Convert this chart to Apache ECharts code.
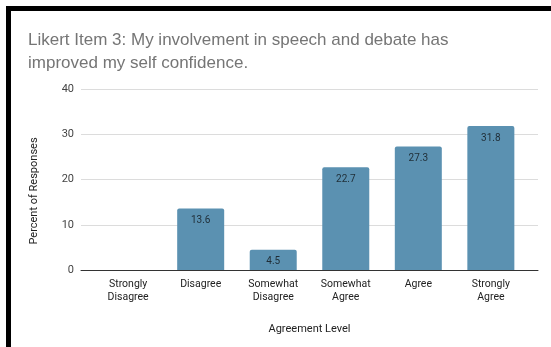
<!DOCTYPE html>
<html>
<head>
<meta charset="utf-8">
<script src="https://cdn.jsdelivr.net/npm/echarts@6/dist/echarts.min.js"></script>
<style>
  html, body { margin: 0; padding: 0; background: #fff; }
  #chart { width: 551px; height: 347px; }
</style>
</head>
<body>
<div id="chart"></div>
<script>
// Agreement levels and response shares (percent)
const categories = ['Strongly\nDisagree', 'Disagree', 'Somewhat\nDisagree', 'Somewhat\nAgree', 'Agree', 'Strongly\nAgree'];
const percents = [0, 13.6, 4.5, 22.7, 27.3, 31.8];
const yTicks = [0, 10, 20, 30, 40];

const chart = echarts.init(document.getElementById('chart'), null, { renderer: 'canvas' });
const font = 'Roboto, Arial, sans-serif';

chart.setOption({
  backgroundColor: '#ffffff',
  animation: false,
  title: {
    text: 'Likert Item 3: My involvement in speech and debate has\nimproved my self confidence.',
    left: 23,
    top: 24,
    textStyle: { fontFamily: 'Arial, Liberation Sans, sans-serif', fontSize: 17, fontWeight: 'normal', color: '#757575', lineHeight: 23 }
  },
  graphic: [
    { type: 'rect', shape: { x: 6, y: 6, width: 5, height: 341 }, style: { fill: '#000' } },
    { type: 'rect', shape: { x: 6, y: 6, width: 545, height: 5 }, style: { fill: '#000' } },
    {
      type: 'text', x: 34, y: 191, rotation: Math.PI / 2,
      style: { text: 'Percent of Responses', fill: '#222', font: '11px ' + font, align: 'center', verticalAlign: 'middle' }
    }
  ],
  grid: { left: 81, right: 13, top: 89, bottom: 77 },
  xAxis: {
    type: 'value',
    min: -0.65,
    max: 5.65,
    name: 'Agreement Level',
    nameLocation: 'middle',
    nameGap: 54,
    nameTextStyle: { fontFamily: font, fontSize: 11, color: '#222' },
    axisLine: { show: true, onZero: false, lineStyle: { color: '#333', width: 1 } },
    axisTick: { show: false },
    splitLine: { show: false },
    axisLabel: {
      customValues: categories.map((c, i) => i),
      formatter: v => categories[Math.round(v)],
      fontFamily: font, fontSize: 10.5, color: '#222', lineHeight: 13, margin: 8
    }
  },
  yAxis: {
    type: 'value',
    min: yTicks[0],
    max: yTicks[yTicks.length - 1],
    interval: 10,
    axisLine: { show: false },
    axisTick: { show: false },
    axisLabel: { fontFamily: font, fontSize: 11, color: '#444', margin: 7 },
    splitLine: { lineStyle: { color: '#dcdcdc', width: 1 } }
  },
  series: [{
    type: 'bar',
    data: percents.map((v, i) => [i, v]),
    barWidth: 47,
    itemStyle: { color: '#5b91b1', borderRadius: [2, 2, 0, 0] },
    label: {
      show: true,
      position: 'insideTop',
      distance: 7,
      formatter: p => (p.value[1] === 0 ? '' : String(p.value[1])),
      fontFamily: font, fontSize: 10, color: '#1f2d36'
    }
  }]
});
</script>
</body>
</html>
